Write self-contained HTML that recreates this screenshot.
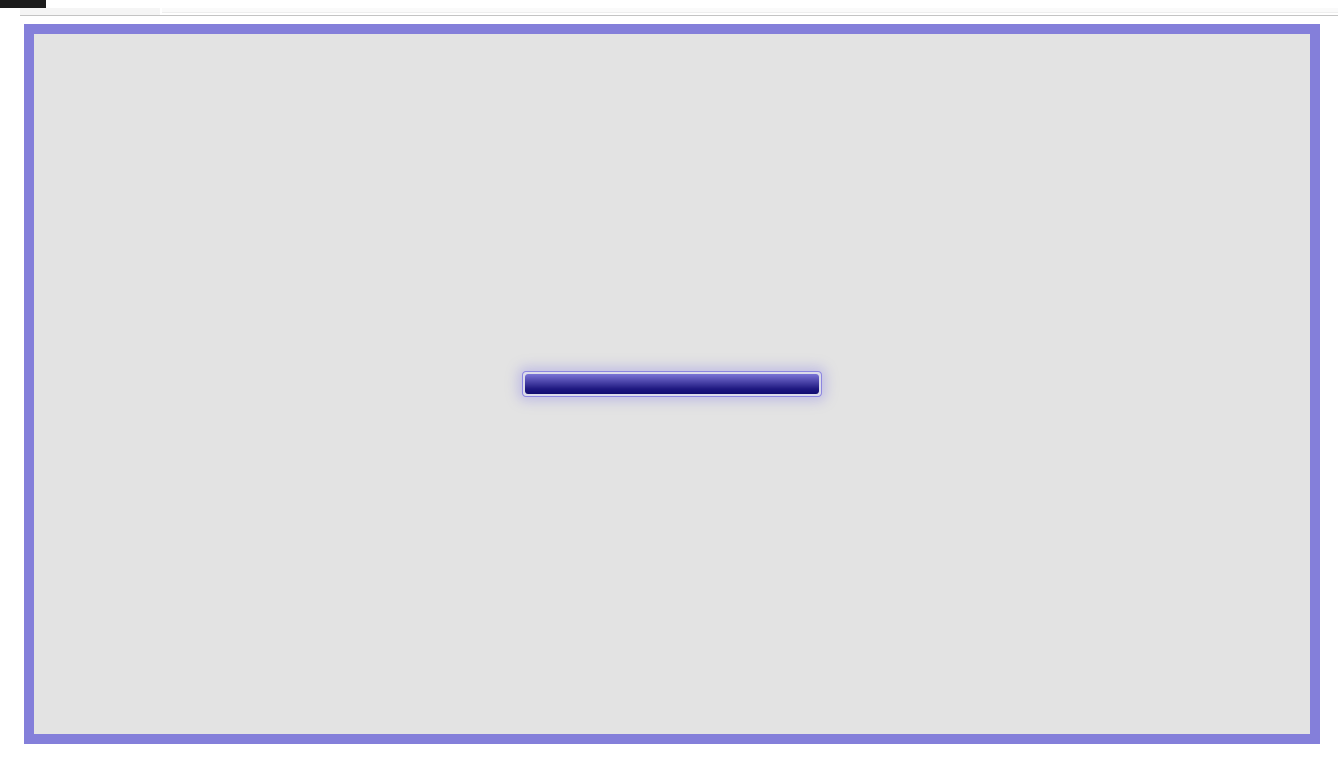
<!DOCTYPE html>
<html><head><meta charset="utf-8">
<style>
html,body{margin:0;padding:0;width:1338px;height:762px;background:#fff;overflow:hidden;position:relative;font-family:"Liberation Sans",sans-serif}
.abs{position:absolute}
</style></head>
<body>
<div class="abs" style="left:0;top:0;width:46px;height:8px;background:#1c1c1c"></div>
<div class="abs" style="left:20px;top:8px;width:140px;height:7px;background:#f5f5f5"></div>
<div class="abs" style="left:162px;top:8px;width:1176px;height:4px;background:#fafafa;border-bottom:1px solid #eee"></div>
<div class="abs" style="left:20px;top:15px;width:1318px;height:1px;background:#c4c4c4"></div>
<div class="abs" style="left:24px;top:24px;width:1276px;height:700px;border:10px solid #847fda;background:#e3e3e3"></div>
<div class="abs" style="left:522px;top:371px;width:298px;height:24px;border:1px solid #8c86e0;border-radius:4px;background:#dcdcea;box-shadow:0 0 12px 4px rgba(130,120,230,0.35)"></div>
<div class="abs" style="left:525px;top:374px;width:294px;height:20px;border-radius:3px;background:linear-gradient(#7a74d6 0%,#4a43a8 40%,#1e1880 75%,#110c70 100%)"></div>
</body></html>
